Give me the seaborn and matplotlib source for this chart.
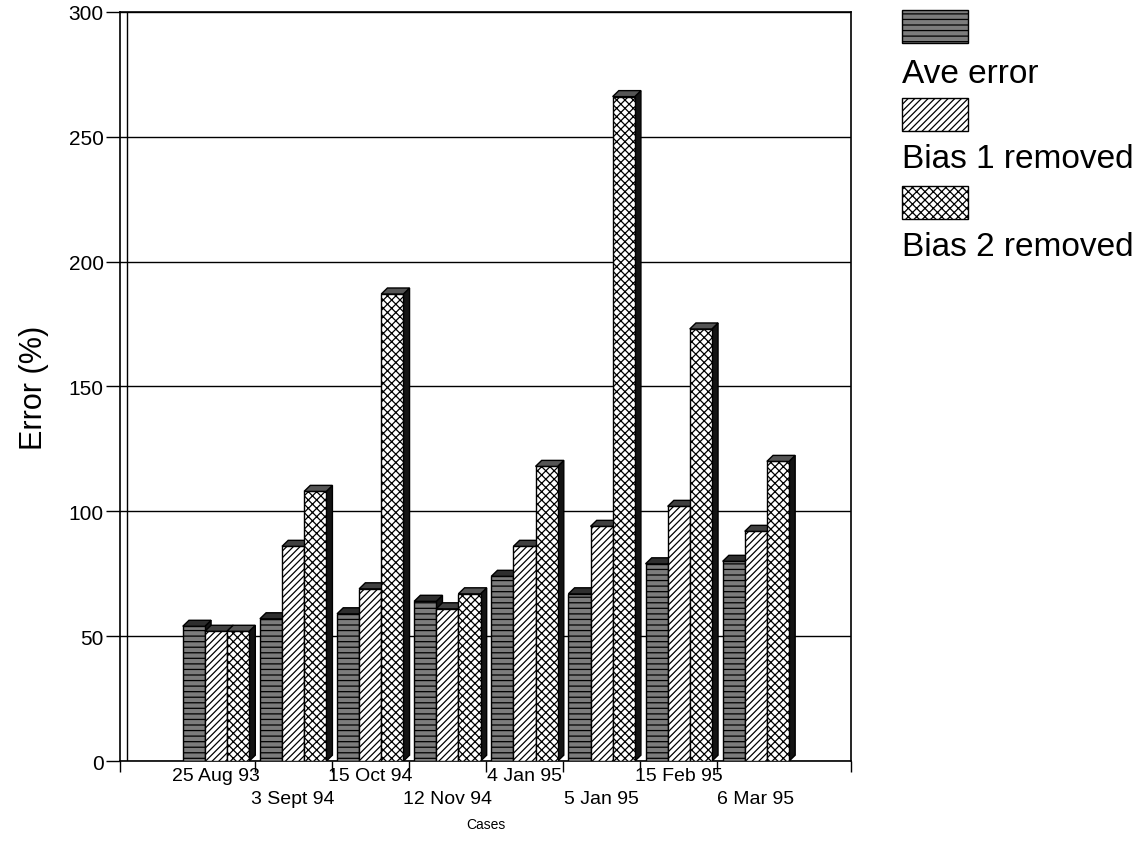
import numpy as np
import pandas as pd
import matplotlib
matplotlib.use("Agg")
import matplotlib.pyplot as plt
from matplotlib.patches import Polygon, Rectangle
from matplotlib.transforms import offset_copy
import seaborn as sns

# Error per case for each correction step
cases = ["25 Aug 93", "3 Sept 94", "15 Oct 94", "12 Nov 94",
         "4 Jan 95", "5 Jan 95", "15 Feb 95", "6 Mar 95"]
ave_error = [54, 57, 59, 64, 74, 67, 79, 80]
bias1_removed = [52, 86, 69, 61, 86, 94, 102, 92]
bias2_removed = [52, 108, 187, 67, 118, 266, 173, 120]
series_names = ["Ave error", "Bias 1 removed", "Bias 2 removed"]
y_ticks = [0, 50, 100, 150, 200, 250, 300]

df = pd.DataFrame({
    "case": cases * 3,
    "series": np.repeat(series_names, len(cases)),
    "error": ave_error + bias1_removed + bias2_removed,
})

sns.set_theme(style="white")
plt.rcParams["font.family"] = ["Liberation Sans", "DejaVu Sans"]
plt.rcParams["hatch.linewidth"] = 0.9
plt.rcParams["hatch.color"] = "black"
for key in ["text.color", "axes.labelcolor", "xtick.color", "ytick.color"]:
    plt.rcParams[key] = "black"

faces = {"Ave error": "#7c7c7c", "Bias 1 removed": "white", "Bias 2 removed": "white"}
hatches = {"Ave error": "---", "Bias 1 removed": "/////", "Bias 2 removed": "xxxx"}
tops = {"Ave error": "#2e2e2e", "Bias 1 removed": "#404040", "Bias 2 removed": "#555555"}

fig = plt.figure(figsize=(11.46, 8.45), dpi=100)
ax = fig.add_axes([0.105, 0.098, 0.638, 0.887])

sns.barplot(data=df, x="case", y="error", hue="series", order=cases,
            hue_order=series_names, palette=faces, saturation=1, width=0.86,
            edgecolor="black", linewidth=1.0, legend=False, ax=ax)

xmin, xmax = -1.24, len(cases) - 1 + 1.24
ax.set_xlim(xmin, xmax)
ax.set_ylim(0, 300)

# depth of the pseudo-3D blocks, in data units
dx, dy = 0.08, 2.4

bars = []
for name, cont in zip(series_names, ax.containers):
    for bar in cont:
        bars.append((bar.get_x(), bar, name))
bars.sort(key=lambda t: t[0])

for j, (x0, bar, name) in enumerate(bars):
    w = bar.get_width()
    h = bar.get_height()
    z = 3 + j * 0.01
    bar.set_hatch(hatches[name])
    bar.set_zorder(z + 0.005)
    x1 = x0 + w
    side = Polygon([(x1, 0), (x1 + dx, dy), (x1 + dx, h + dy), (x1, h)],
                   closed=True, facecolor="#141414", edgecolor="black",
                   linewidth=1.0, zorder=z)
    top = Polygon([(x0, h), (x1, h), (x1 + dx, h + dy), (x0 + dx, h + dy)],
                  closed=True, facecolor=tops[name], edgecolor="black",
                  linewidth=1.0, zorder=z + 0.006)
    ax.add_patch(side)
    ax.add_patch(top)

# back wall: gridlines and inner wall edge
ax.set_yticks(y_ticks)
ax.yaxis.grid(True, color="black", linewidth=1.0)
ax.set_axisbelow(True)
ax.axvline(xmin + dx, color="black", linewidth=1.0, zorder=1)

for s in ax.spines.values():
    s.set_visible(True)
    s.set_color("black")
    s.set_linewidth(1.2)

# group boundaries carry the tick marks; case names sit in two staggered rows
bounds = [xmin] + [i + 0.5 for i in range(len(cases) - 1)] + [xmax]
ax.set_xticks(bounds)
ax.set_xticklabels([""] * len(bounds))
upper = list(range(0, len(cases), 2))
lower = list(range(1, len(cases), 2))
ax.set_xticks(upper, minor=True)
ax.set_xticklabels([cases[i] for i in upper], minor=True, fontsize=14)
ax.tick_params(axis="x", which="major", direction="out", length=8, width=1,
               color="black", bottom=True)
ax.tick_params(axis="x", which="minor", length=0, pad=4, bottom=True)
ax.tick_params(axis="y", direction="out", length=10, width=1, color="black",
               labelsize=15, pad=2, left=True)

row2 = offset_copy(ax.get_xaxis_transform(), fig=fig, y=-21, units="points")
for i in lower:
    ax.text(i, 0, cases[i], transform=row2, ha="center", va="top", fontsize=14)

ax.set_xlabel("Cases", fontsize=10, labelpad=24)
ax.set_ylabel("Error (%)", fontsize=22, labelpad=14)

# legend: swatch above each label
sw_x, sw_w, sw_h = 0.787, 0.058, 0.039
sw_bottoms = [0.948, 0.844, 0.740]
txt_y = [0.902, 0.801, 0.697]
for name, yb, ty in zip(series_names, sw_bottoms, txt_y):
    fig.add_artist(Rectangle((sw_x, yb), sw_w, sw_h, transform=fig.transFigure,
                             facecolor=faces[name], edgecolor="black",
                             hatch=hatches[name], linewidth=1.0))
    fig.text(sw_x, ty, name, fontsize=24, ha="left", va="baseline")

fig.savefig("out.png", dpi=100)
